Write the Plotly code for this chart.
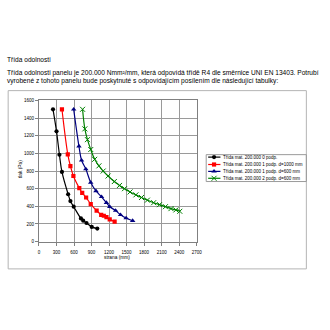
import plotly.graph_objects as go

# Span length (mm) vs. allowable pressure (Pa) for each reinforcement variant
strana_0 = [240, 300, 350, 393, 499, 538, 594, 718, 757, 813, 903, 998]
tlak_0 = [1500, 1250, 985, 790, 537, 459, 396, 263, 237, 211, 167, 148]

strana_1a = [393, 493, 538, 589, 690, 740, 807, 886, 987, 1065, 1110, 1155, 1211, 1295]
tlak_1a = [1500, 989, 856, 744, 607, 552, 500, 426, 352, 304, 293, 278, 252, 226]

strana_1b = [594, 684, 729, 802, 886, 976, 1071, 1155, 1211, 1312, 1396, 1492, 1604]
tlak_1b = [1500, 1081, 922, 822, 670, 574, 507, 441, 396, 352, 304, 267, 237]

strana_2 = [746, 785, 830, 886, 953, 1026, 1099, 1183, 1290, 1379, 1464, 1559,
            1660, 1755, 1856, 1963, 2064, 2165, 2260, 2344, 2411]
tlak_2 = [1500, 1278, 1156, 1044, 933, 859, 800, 744, 681, 637, 600, 563,
          530, 500, 470, 441, 419, 396, 374, 359, 344]

series_names = [
    "Třída mat. 200.000 0 podp.",
    "Třída mat. 200.000 1 podp. d=1000 mm",
    "Třída mat. 200.000 1 podp. d=600 mm",
    "Třída mat. 200.000 2 podp. d=600 mm",
]
series_x = [strana_0, strana_1a, strana_1b, strana_2]
series_y = [tlak_0, tlak_1a, tlak_1b, tlak_2]
series_colors = ["#000000", "#ff0000", "#000080", "#008000"]
series_symbols = ["circle", "square", "triangle-up", "x-thin"]
series_sizes = [4.2, 4.2, 4.8, 5]

x_ticks = [0, 300, 600, 900, 1200, 1500, 1800, 2100, 2400, 2700]
y_ticks = [0, 200, 400, 600, 800, 1000, 1200, 1400, 1600]

heading = "Třída odolnosti"
body_lines = [
    "Třída odolnosti panelu je 200.000 Nmm²/mm, která odpovídá třídě R4 dle směrnice UNI EN 13403. Potrubí",
    "vyrobené z tohoto panelu bude poskytnuté s odpovídajícím posílením dle následující tabulky:",
]

W = H = 330
FONT = "Liberation Sans, Arial, sans-serif"


def px(x):
    return x / W


def py(y):
    return 1 - y / H


fig = go.Figure()

for name, xs, ys, col, sym, sz in zip(series_names, series_x, series_y,
                                      series_colors, series_symbols, series_sizes):
    fig.add_trace(go.Scatter(
        x=xs, y=ys, name=name, mode="lines+markers",
        line=dict(color=col, width=1.2, shape="spline", smoothing=1),
        marker=dict(symbol=sym, size=sz, color=col,
                    line=dict(color=col, width=1 if sym == "x-thin" else 0)),
        showlegend=False,
    ))

# Compact legend drawn on a pixel-space overlay axis
leg_rows = [157.5, 165, 172, 179]
for name, col, sym, sz, ry in zip(series_names, series_colors, series_symbols,
                                  series_sizes, leg_rows):
    fig.add_trace(go.Scatter(
        x=[211, 217, 223.5], y=[ry, ry, ry], xaxis="x2", yaxis="y2",
        mode="lines", line=dict(color=col, width=1.2),
        showlegend=False, hoverinfo="skip",
    ))
    fig.add_trace(go.Scatter(
        x=[217], y=[ry], xaxis="x2", yaxis="y2", mode="markers",
        marker=dict(symbol=sym, size=sz, color=col,
                    line=dict(color=col, width=1 if sym == "x-thin" else 0)),
        showlegend=False, hoverinfo="skip",
    ))
    fig.add_annotation(x=px(224.5), y=py(ry), xref="paper", yref="paper",
                       text=name, showarrow=False, xanchor="left", yanchor="middle",
                       font=dict(family=FONT, size=4.5, color="#000000"))

grid = "#9a9a9a"
fig.update_layout(
    width=W, height=H,
    margin=dict(l=0, r=0, t=0, b=0),
    paper_bgcolor="white", plot_bgcolor="rgba(0,0,0,0)",
    font=dict(family=FONT, color="#000000"),
    xaxis=dict(
        domain=[px(38.7), px(199.3)], range=[0, 2700], tickvals=x_ticks,
        showgrid=True, gridcolor=grid, gridwidth=1,
        showline=True, linecolor="#808080", linewidth=1, mirror=True,
        ticks="outside", ticklen=3, tickcolor="#808080", ticklabelstandoff=3,
        tickfont=dict(size=4.5, family=FONT), zeroline=False,
    ),
    yaxis=dict(
        domain=[py(243.3), py(100)], range=[0, 1600], tickvals=y_ticks,
        showgrid=True, gridcolor=grid, gridwidth=1,
        showline=True, linecolor="#808080", linewidth=1, mirror=True,
        ticks="outside", ticklen=3, tickcolor="#808080",
        tickfont=dict(size=4.5, family=FONT), zeroline=False,
    ),
    xaxis2=dict(domain=[0, 1], range=[0, W], visible=False, fixedrange=True),
    yaxis2=dict(domain=[0, 1], range=[H, 0], visible=False, fixedrange=True,
                anchor="x2"),
)

# Outer frame and legend box
fig.add_shape(type="rect", xref="paper", yref="paper",
              x0=px(7.3), x1=px(311), y0=py(271), y1=py(90),
              line=dict(color="#b4b4b4", width=1), layer="below")
fig.add_shape(type="rect", xref="paper", yref="paper",
              x0=px(209), x1=px(311), y0=py(182.3), y1=py(155),
              line=dict(color="#9a9a9a", width=1))

# Axis titles
fig.add_annotation(x=px(20), y=py(170), xref="paper", yref="paper",
                   text="tlak (Pa)", showarrow=False, textangle=-90,
                   xanchor="center", yanchor="middle",
                   font=dict(family=FONT, size=4.8))
fig.add_annotation(x=px(118.5), y=py(259.5), xref="paper", yref="paper",
                   text="strana (mm)", showarrow=False,
                   xanchor="center", yanchor="middle",
                   font=dict(family=FONT, size=4.8))

# Heading and description text above the chart
fig.add_annotation(x=px(4.5), y=py(58), xref="paper", yref="paper",
                   text=heading, showarrow=False, xanchor="left", yanchor="middle",
                   font=dict(family=FONT, size=6.6))
for text, ly in zip(body_lines, [72.5, 80]):
    fig.add_annotation(x=px(4.5), y=py(ly), xref="paper", yref="paper",
                       text=text, showarrow=False, xanchor="left", yanchor="middle",
                       font=dict(family=FONT, size=6.6))

fig.write_html("out.html")
